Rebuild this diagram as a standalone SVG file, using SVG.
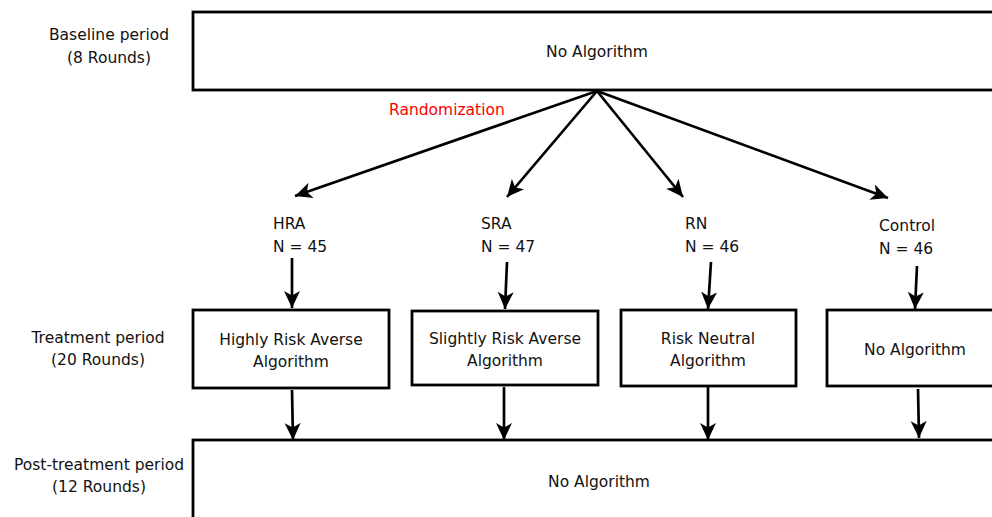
<svg xmlns="http://www.w3.org/2000/svg" width="992" height="517" viewBox="0 0 992 517">
<style>
text{font-family:"DejaVu Sans","Liberation Sans",sans-serif;font-size:15.5px;fill:#111}
.c{text-anchor:middle}
.box{fill:#fff;stroke:#000;stroke-width:2.8}
.edge{fill:none;stroke:#000;stroke-width:2.7;marker-end:url(#ah)}
.red{fill:#ff0000}
</style>
<defs>
<marker id="ah" markerUnits="userSpaceOnUse" markerWidth="18" markerHeight="17" refX="17" refY="8" orient="auto" viewBox="0 0 18 16">
<path d="M0,0 L17,8 L0,16 L4.5,8 z" fill="#000"/>
</marker>
</defs>
<rect width="992" height="517" fill="#fff"/>
<g id="label-baseline"><text class="c" x="109" y="40">Baseline period</text><text class="c" x="109" y="63">(8 Rounds)</text></g>
<g id="label-treatment"><text class="c" x="98" y="343">Treatment period</text><text class="c" x="98" y="365">(20 Rounds)</text></g>
<g id="label-post"><text class="c" x="99" y="470">Post-treatment period</text><text class="c" x="99" y="492">(12 Rounds)</text></g>
<g id="baseline"><rect class="box" x="193" y="12" width="820" height="78"/><text class="c" x="597" y="57">No Algorithm</text></g>
<g id="randomization"><text class="red" x="389" y="115">Randomization</text></g>
<g id="hra-label"><text x="273" y="229">HRA</text><text x="273" y="252">N = 45</text></g>
<g id="sra-label"><text x="481" y="229">SRA</text><text x="481" y="252">N = 47</text></g>
<g id="rn-label"><text x="685" y="229">RN</text><text x="685" y="252">N = 46</text></g>
<g id="control-label"><text x="879" y="231">Control</text><text x="879" y="254">N = 46</text></g>
<g id="hra"><rect class="box" x="193" y="310" width="196" height="78"/><text class="c" x="291" y="345">Highly Risk Averse</text><text class="c" x="291" y="367">Algorithm</text></g>
<g id="sra"><rect class="box" x="412" y="311" width="186" height="74"/><text class="c" x="505" y="344">Slightly Risk Averse</text><text class="c" x="505" y="366">Algorithm</text></g>
<g id="rn"><rect class="box" x="621" y="310" width="175" height="76"/><text class="c" x="708" y="344">Risk Neutral</text><text class="c" x="708" y="366">Algorithm</text></g>
<g id="control"><rect class="box" x="827" y="310" width="200" height="76"/><text class="c" x="915" y="355">No Algorithm</text></g>
<g id="post"><rect class="box" x="193" y="440" width="820" height="100"/><text class="c" x="599" y="487">No Algorithm</text></g>
<g id="connectors">
<path class="edge" d="M597,91 L295,196"/>
<path class="edge" d="M597,91 L507,197"/>
<path class="edge" d="M597,91 L683,197"/>
<path class="edge" d="M597,91 L888,198"/>
<path class="edge" d="M292,258 L292,308"/>
<path class="edge" d="M507,262 L505,309"/>
<path class="edge" d="M711,262 L708,309"/>
<path class="edge" d="M917,266 L915,309"/>
<path class="edge" d="M292,390 L293,440"/>
<path class="edge" d="M504,387 L504,440"/>
<path class="edge" d="M708,387 L708,440"/>
<path class="edge" d="M918,389 L919,438"/>
</g>
</svg>
